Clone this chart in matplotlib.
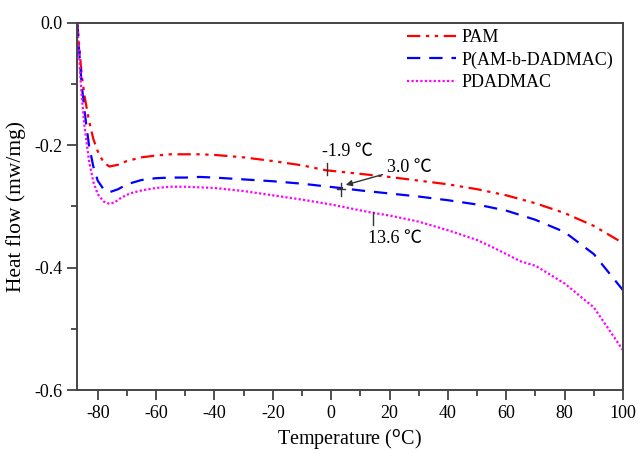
import matplotlib
matplotlib.use("Agg")
import matplotlib.pyplot as plt
from matplotlib.ticker import MultipleLocator, FuncFormatter

plt.rcParams['font.family'] = ['Liberation Serif', 'Noto Sans CJK SC', 'DejaVu Sans']
plt.rcParams['axes.unicode_minus'] = False

temp_pam = [-87, -86.3, -85.5, -84.5, -83, -81.5, -80, -78, -76, -73, -70, -65, -60, -55, -50, -45, -40, -30, -20, -10, -1.9, 10, 20, 30, 40, 50, 60, 70, 80, 90, 100]
hf_pam = [0.0, -0.04, -0.085, -0.12, -0.16, -0.19, -0.21, -0.228, -0.235, -0.232, -0.226, -0.22, -0.217, -0.215, -0.215, -0.215, -0.216, -0.22, -0.226, -0.233, -0.241, -0.247, -0.252, -0.258, -0.264, -0.272, -0.282, -0.295, -0.311, -0.332, -0.36]

temp_co = [-87, -86.3, -85.5, -84.5, -83, -81.5, -80, -78, -76, -73, -70, -65, -60, -55, -50, -45, -40, -30, -20, -10, 3.0, 10, 20, 30, 40, 50, 60, 70, 80, 90, 100]
hf_co = [0.0, -0.05, -0.1, -0.145, -0.2, -0.235, -0.258, -0.272, -0.277, -0.272, -0.264, -0.257, -0.254, -0.253, -0.253, -0.252, -0.253, -0.256, -0.259, -0.263, -0.27, -0.274, -0.279, -0.284, -0.29, -0.297, -0.307, -0.322, -0.342, -0.378, -0.437]

temp_pd = [-87, -86.3, -85.5, -84.5, -83, -81.5, -80, -78, -76, -74, -72, -69, -65, -60, -55, -50, -45, -40, -30, -20, -10, 0, 13.6, 20, 30, 40, 50, 55, 60, 65, 70, 80, 90, 100]
hf_pd = [0.0, -0.06, -0.12, -0.17, -0.225, -0.26, -0.28, -0.292, -0.296, -0.293, -0.286, -0.279, -0.274, -0.27, -0.268, -0.268, -0.269, -0.27, -0.275, -0.282, -0.289, -0.297, -0.31, -0.315, -0.325, -0.339, -0.355, -0.366, -0.378, -0.39, -0.397, -0.426, -0.465, -0.535]

labels = ['PAM', 'P(AM-b-DADMAC)', 'PDADMAC']

fig = plt.figure(figsize=(6.38, 4.53), dpi=100)
ax = fig.add_axes([0.1202, 0.139, 0.8563, 0.811])

ax.plot(temp_pam, hf_pam, color='#ff0000', lw=1.6, linestyle=(0, (6, 2.5, 1.5, 2.5, 1.5, 2.5)), label=labels[0])
ax.plot(temp_co, hf_co, color='#0000ff', lw=1.6, linestyle=(0, (6, 4)), label=labels[1])
ax.plot(temp_pd, hf_pd, color='#ff00ff', lw=1.6, linestyle=(0, (1, 1)), label=labels[2])

ax.set_xlim(-87.2, 100)
ax.set_ylim(-0.6, 0.0)
ax.xaxis.set_major_locator(MultipleLocator(20))
ax.xaxis.set_minor_locator(MultipleLocator(10))
ax.yaxis.set_major_locator(MultipleLocator(0.2))
ax.yaxis.set_minor_locator(MultipleLocator(0.1))
ax.yaxis.set_major_formatter(FuncFormatter(lambda v, p: f"{v:.1f}"))
ax.tick_params(which='both', direction='out', labelsize=13, width=1.2, color='#333333')
ax.tick_params(which='major', length=7)
ax.tick_params(which='minor', length=4)
for s in ax.spines.values():
    s.set_linewidth(1.4)
    s.set_color('#444444')

ax.set_xlabel('Temperature ($^{\\mathrm{o}}$C)', fontsize=14.5, labelpad=4)
ax.set_ylabel('Heat flow (mw/mg)', fontsize=15.5, labelpad=6)

tfont = dict(fontsize=13)
# Tg markers
ax.plot([-1.6, -1.6], [-0.229, -0.249], color='#333333', lw=1.0)
ax.text(-3.0, -0.211, '-1.9 ℃', ha='left', va='center', **tfont)
ax.plot([3.4, 3.4], [-0.262, -0.283], color='#333333', lw=1.0)
ax.plot([1.9, 4.9], [-0.271, -0.271], color='#333333', lw=1.0)
ax.annotate('3.0 ℃', xy=(5.0, -0.265), xytext=(19, -0.236), ha='left', va='center',
            arrowprops=dict(arrowstyle='-|>', color='#333333', lw=1.0, mutation_scale=9,
                            shrinkA=1, shrinkB=0), **tfont)
ax.plot([14.2, 14.2], [-0.309, -0.331], color='#333333', lw=1.0)
ax.text(12.5, -0.352, '13.6 ℃', ha='left', va='center', **tfont)

leg = ax.legend(loc='upper right', frameon=False, fontsize=13, handlelength=2.7,
                borderaxespad=0.2, labelspacing=0.3, handletextpad=0.3,
                bbox_to_anchor=(1.002, 1.012))

fig.savefig('out.png', dpi=100)
